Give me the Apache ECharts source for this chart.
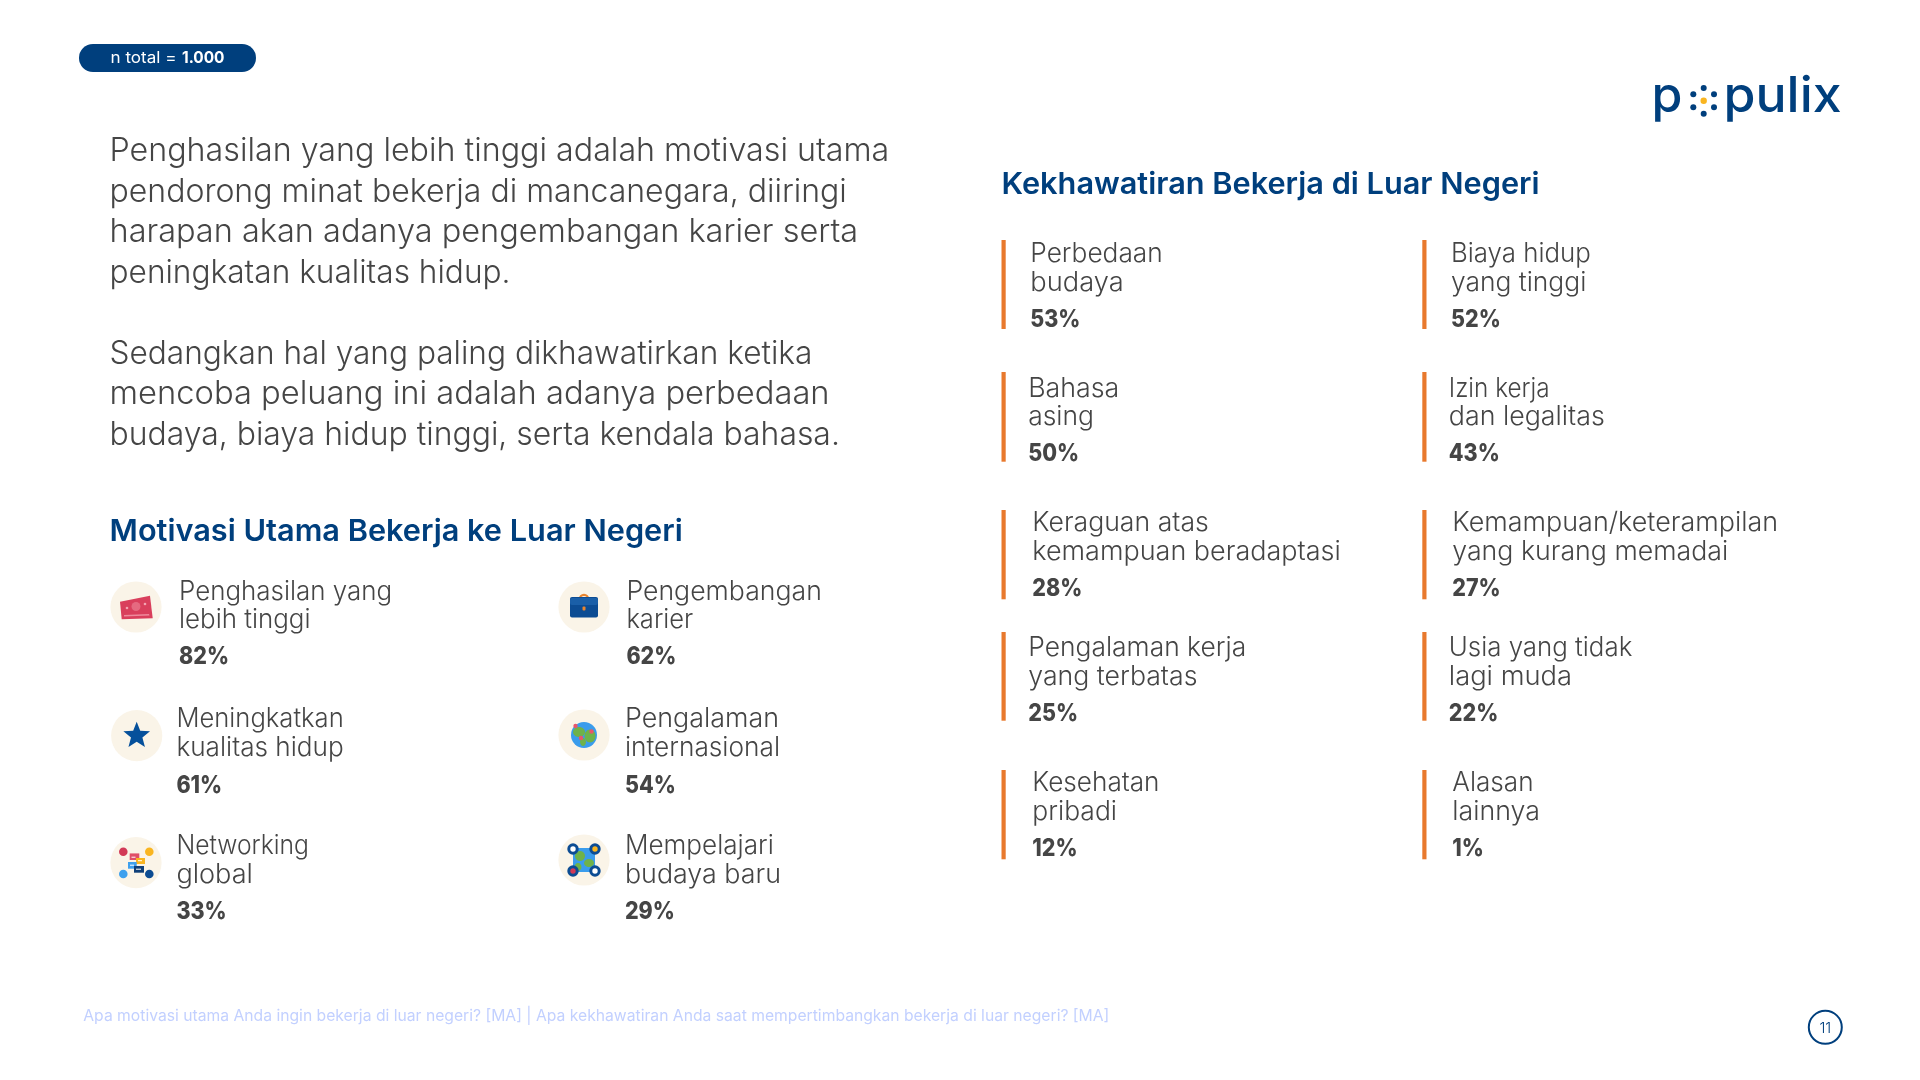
<!DOCTYPE html>
<html><head><meta charset="utf-8">
<style>html,body{margin:0;padding:0;background:#fff}#c{width:1920px;height:1080px}</style>
<script src="https://cdn.jsdelivr.net/npm/echarts@6/dist/echarts.min.js"></script>
</head><body><div id="c"></div>
<script>
const sampleSize = 'n total = ';
const sampleTotal = '1.000';
const pageNumber = '11';
const brandPre = 'p';
const brandPost = 'pulix';
const footnote = 'Apa motivasi utama Anda ingin bekerja di luar negeri? [MA] | Apa kekhawatiran Anda saat mempertimbangkan bekerja di luar negeri? [MA]';
const paragraphOne = ['Penghasilan yang lebih tinggi adalah motivasi utama','pendorong minat bekerja di mancanegara, diiringi','harapan akan adanya pengembangan karier serta','peningkatan kualitas hidup.'];
const paragraphTwo = ['Sedangkan hal yang paling dikhawatirkan ketika','mencoba peluang ini adalah adanya perbedaan','budaya, biaya hidup tinggi, serta kendala bahasa.'];
const motivasiTitle = 'Motivasi Utama Bekerja ke Luar Negeri';
const motivasiLabels = [['Penghasilan yang','lebih tinggi'],['Pengembangan','karier'],['Meningkatkan','kualitas hidup'],['Pengalaman','internasional'],['Networking','global'],['Mempelajari','budaya baru']];
const motivasiValues = [82,62,61,54,33,29];
const khawatirTitle = 'Kekhawatiran Bekerja di Luar Negeri';
const khawatirLabels = [['Perbedaan','budaya'],['Biaya hidup','yang tinggi'],['Bahasa','asing'],['Izin kerja','dan legalitas'],['Keraguan atas','kemampuan beradaptasi'],['Kemampuan/keterampilan','yang kurang memadai'],['Pengalaman kerja','yang terbatas'],['Usia yang tidak','lagi muda'],['Kesehatan','pribadi'],['Alasan','lainnya']];
const khawatirValues = [53,52,50,43,28,27,25,22,12,1];

// ---- layout (kept apart from the data) ----
const NAVY='#003f7d', INK='#454545', ORANGE='#e8792d', CREAM='#faf4e8', FOOT='#c2d0ff';
const FAM='Inter, "Noto Sans", sans-serif';
const ctx=document.createElement('canvas').getContext('2d');
function ratio(font,s,target){ctx.font=font;return target/ctx.measureText(s).width;}
const fPara=`300 32px ${FAM}`, fLabel=`300 26.67px ${FAM}`, fTitle=`600 30px ${FAM}`, fPct=`800 24px ${FAM}`, fFoot=`400 16px ${FAM}`, fPill=`400 16px ${FAM}`, fPillB=`700 16px ${FAM}`;
const rTitle=ratio(fTitle,khawatirTitle,538), rPct=ratio(fPct,'82%',50), rFoot=ratio(fFoot,footnote,1026);
function T(text,x,base,size,font,fill,r,align){
  return {type:'text',x,y:base-size*0.27,scaleX:r||1,silent:true,
    style:{text,font,fill,textAlign:align||'left',textVerticalAlign:'middle'}};
}
const paraOneW=[779.8,737.3,748.7,401], paraTwoW=[702.9,720.1,730.4];
const motW=[[213.2,131.5],[195.4,66.8],[167.3,167.3],[154.1,155.1],[132.5,76.5],[148.9,156.1]];
const kW=[[132.4,93.3],[139.8,135.3],[91.1,65.8],[100.8,155.9],[176.5,308.5],[325.8,275.9],[217.9,169.1],[183.5,123.2],[127.2,84.7],[81.3,87.6]];
const motX=[179,626.4,176.4,624.9,176.4,624.9], motY=[[599,627,663],[599,627,663],[726,755,792],[726,755,792],[853,882,918],[853,882,918]];
const motIcon=[[136,607],[584,607],[136.7,735.7],[584,735],[136,862.7],[584,860]];
const kX=[1030.3,1451,1028.2,1448.8,1032.3,1452.3,1028.3,1448.8,1032.3,1452.3];
const kBarX=[1001.5,1422.3];
const kRow=[{y0:240,y1:329,b:[261,290,326]},{y0:372,y1:461.7,b:[396,424,460]},{y0:510,y1:599.3,b:[529.7,559,595]},{y0:632,y1:720.7,b:[655,684,720.7]},{y0:770,y1:859.3,b:[790,819,855]}];

function star(cx,cy,R,r){const p=[];for(let i=0;i<10;i++){const a=-Math.PI/2+i*Math.PI/5,q=i%2?r:R;p.push([cx+q*Math.cos(a),cy+q*Math.sin(a)]);}return p;}
const C=(cx,cy,r,fill,extra)=>({type:'circle',shape:{cx,cy,r},silent:true,style:Object.assign({fill},extra||{})});
const R=(x,y,w,h,fill,rr)=>({type:'rect',shape:{x,y,width:w,height:h,r:rr||0},silent:true,style:{fill}});
const P=(pts,fill)=>({type:'polygon',shape:{points:pts},silent:true,style:{fill}});
const blob=(cx,cy,rx,ry,fill)=>({type:'ellipse',shape:{cx,cy,rx,ry},silent:true,style:{fill}});
const iconDraw=[
 (x,y)=>[P([[x-16,y-5.3],[x+14,y-11.3],[x+16.7,y+11.3],[x-14.3,y+12.3]],'#d93f5c'),
         P([[x-12,y+8],[x+13,y+7],[x+13.5,y+8.5],[x-12,y+9.5]],'#ee8a9c'),C(x,y-0.5,4.5,'#e56a80'),C(x-9,y+1,1.3,'#f2a4b2'),C(x+9,y-3,1.3,'#f2a4b2')],
 (x,y)=>[{type:'arc',shape:{cx:x,cy:y-8,r:4.2,startAngle:Math.PI,endAngle:0},silent:true,style:{stroke:'#e8852f',lineWidth:2.2,fill:null}},
         R(x-14,y-10,28,20.5,'#0c4c93',2),R(x-14,y-9,28,7,'#1a5fa8',2),R(x-1.5,y-0.5,3,4,'#e8852f',1)],
 (x,y)=>[P(star(x,y,14,6),'#05509b')],
 (x,y)=>[C(x,y,13,'#3a9cec'),blob(x-5,y-3,6,5,'#6fb24a'),blob(x+6,y+1,5.5,6.5,'#6fb24a'),blob(x-1,y+7,3,4,'#6fb24a'),
         C(x-8.5,y-9,2.2,'#e8566a'),C(x+7.5,y-3.5,2.2,'#e8566a'),C(x-3,y+3,2.2,'#e8566a')],
 (x,y)=>[C(x-12.7,y-11,4.3,'#d23a57'),C(x+13.3,y-11,4.3,'#f9b520'),C(x-12.7,y+11.3,4.3,'#3ea0ee'),C(x+13.3,y+11.3,4.3,'#0c4c93'),
         R(x-6.3,y-9.3,9.6,6.6,'#e04f68'),R(x+0,y-4.7,9,6,'#f9b520'),R(x-8,y-0.7,8.7,6.7,'#3ea0ee'),R(x-2,y+3.3,10,6.7,'#0f3f78'),
         R(x-4.5,y-6,4,1,'#fff'),R(x+2,y-2.5,4,1,'#fff'),R(x-6,y+2,4,1,'#fff'),R(x+0,y+6,5,1,'#fff')],
 (x,y)=>[R(x-11,y-12,22,24,'#3a9cec'),blob(x-4,y-4,5,5,'#6fb24a'),blob(x+5,y+3,5,4,'#6fb24a'),blob(x-6,y+7,3.5,4,'#6fb24a'),
         C(x-11,y-11,4.2,'#ffffff',{stroke:'#0c4c93',lineWidth:3}),C(x+11,y-11,4.2,'#f9b520',{stroke:'#0c4c93',lineWidth:3}),
         C(x-11,y+11,4.2,'#d23a57',{stroke:'#0c4c93',lineWidth:3}),C(x+11,y+11,4.2,'#ffffff',{stroke:'#0c4c93',lineWidth:3})]
];

const staticEls=[
  R(79,44,177,28,NAVY,14),
  T(sampleSize.trim(),110.5,62.7,16,fPill,'#fff',ratio(fPill,sampleSize.trim(),66)),
  T(sampleTotal,182,62.7,16,fPillB,'#fff',ratio(fPillB,sampleTotal,42.5)),
  T(brandPre,1651.5,110.7,50,`500 50px ${FAM}`,NAVY,1),
  T(brandPost,1723.5,110.7,50,`500 50px ${FAM}`,NAVY,ratio(`500 50px ${FAM}`,brandPost,118)),
  C(1703.7,100.7,3.2,'#f9b520'),C(1703.7,88,3,NAVY),C(1693.3,94.3,3,NAVY),C(1714,94.3,3,NAVY),C(1693.3,107.3,3,NAVY),C(1714,107.3,3,NAVY),C(1703.7,113.7,3,NAVY),
  T(motivasiTitle,109.6,540.5,30,fTitle,NAVY,rTitle),
  T(khawatirTitle,1001.6,193.5,30,fTitle,NAVY,rTitle),
  T(footnote,83.3,1020.2,16,fFoot,FOOT,rFoot),
  C(1825.3,1027.3,16.5,'#fff',{stroke:NAVY,lineWidth:2}),
  T(pageNumber,1825.3,1032.7,15,`300 15px ${FAM}`,NAVY,1,'center')
];
paragraphOne.forEach((s,i)=>staticEls.push(T(s,109.5,[160,201,241.5,282][i],32,fPara,INK,ratio(fPara,s,paraOneW[i]))));
paragraphTwo.forEach((s,i)=>staticEls.push(T(s,109.5,[363,403.5,444][i],32,fPara,INK,ratio(fPara,s,paraTwoW[i]))));

const chart=echarts.init(document.getElementById('c'),null,{renderer:'canvas',width:1920,height:1080});
chart.setOption({
  backgroundColor:'#fff',animation:false,tooltip:{show:false},
  graphic:{elements:staticEls},
  series:[
   {type:'custom',name:'Motivasi',coordinateSystem:'none',silent:true,data:motivasiValues.map((v,i)=>[i,v]),
    renderItem(p,api){const i=api.value(0),v=api.value(1),[cx,cy]=motIcon[i],x=motX[i],b=motY[i],l=motivasiLabels[i],w=motW[i];
      return {type:'group',children:[C(cx,cy,25.6,CREAM),...iconDraw[i](cx,cy),
        T(l[0],x,b[0],26.67,fLabel,INK,ratio(fLabel,l[0],w[0])),T(l[1],x,b[1],26.67,fLabel,INK,ratio(fLabel,l[1],w[1])),T(v+'%',x,b[2],24,fPct,INK,rPct)]};}},
   {type:'custom',name:'Kekhawatiran',coordinateSystem:'none',silent:true,data:khawatirValues.map((v,i)=>[i,v]),
    renderItem(p,api){const i=api.value(0),v=api.value(1),r=kRow[Math.floor(i/2)],x=kX[i],l=khawatirLabels[i],w=kW[i];
      return {type:'group',children:[R(kBarX[i%2],r.y0,4.2,r.y1-r.y0,ORANGE),
        T(l[0],x,r.b[0],26.67,fLabel,INK,ratio(fLabel,l[0],w[0])),T(l[1],x,r.b[1],26.67,fLabel,INK,ratio(fLabel,l[1],w[1])),T(v+'%',x,r.b[2],24,fPct,INK,rPct)]};}}
  ]
});
</script></body></html>
